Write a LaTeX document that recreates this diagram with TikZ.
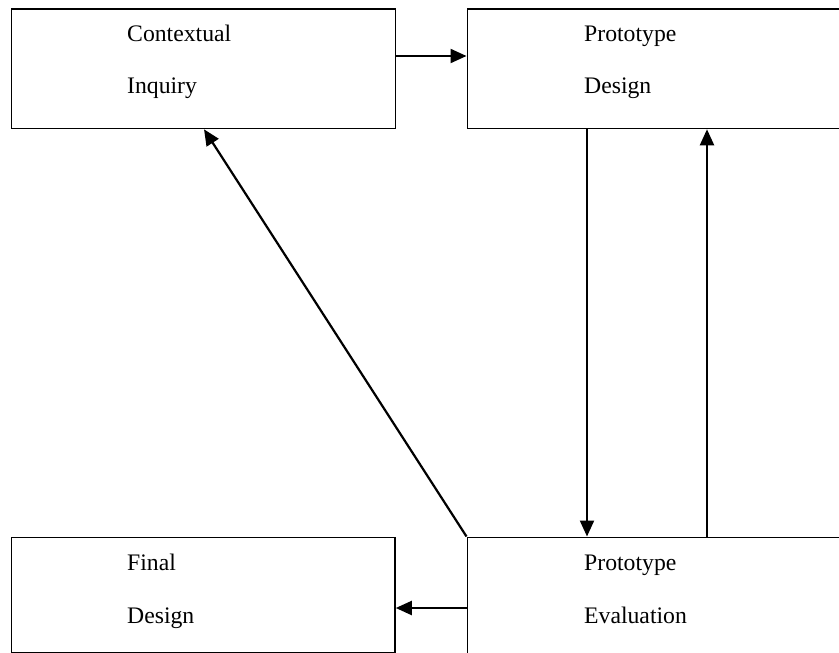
\documentclass[tikz,border=0pt]{standalone}
\usepackage{fontspec}
\setmainfont{Liberation Serif}
\usetikzlibrary{arrows.meta}
\begin{document}
\begin{tikzpicture}[x=1bp,y=-1bp,
  box/.style={draw=black, line width=1.8bp, rectangle, inner sep=0pt, anchor=north west},
  lbl/.style={anchor=base west, inner sep=0pt, font=\fontsize{23.7bp}{28bp}\selectfont},
  conn/.style={line width=2.2bp, -{Triangle[length=16bp,width=14bp]}}]
\useasboundingbox (0,0) rectangle (839,653);
\clip (0,0) rectangle (839,653);
\fill[white] (0,0) rectangle (839,653);
% boxes
\node[box, minimum width=384bp, minimum height=119.5bp] (ci) at (10.5,8) {};
\node[box, minimum width=400bp, minimum height=119.5bp] (pd) at (466.5,8) {};
\node[box, minimum width=383.5bp, minimum height=115bp] (fd) at (10.5,536.5) {};
\node[box, minimum width=400bp, minimum height=130bp] (pe) at (466.5,536.5) {};
% labels
\node[lbl] (t1) at (127,41.5) {Contextual};
\node[lbl] (t2) at (127,93.5) {Inquiry};
\node[lbl] (t3) at (584,41.5) {Prototype};
\node[lbl] (t4) at (584,93.5) {Design};
\node[lbl] (t5) at (127,570) {Final};
\node[lbl] (t6) at (127,623) {Design};
\node[lbl] (t7) at (584,570) {Prototype};
\node[lbl] (t8) at (584,623) {Evaluation};
% connectors
\coordinate (a1) at (ci.east |- 0,56);
\coordinate (a2) at (pd.west |- 0,56);
\draw[conn] (a1) -- (a2);
\draw[conn] (pd.south -| 587,0) -- (pe.north -| 587,0);
\draw[conn] (pe.north -| 707,0) -- (pd.south -| 707,0);
\draw[conn] (pe.north west) -- (ci.south -| 204,0);
\coordinate (e1) at (pe.west |- 0,608);
\coordinate (e2) at (fd.east |- 0,608);
\draw[conn] (e1) -- (e2);
\end{tikzpicture}
\end{document}
